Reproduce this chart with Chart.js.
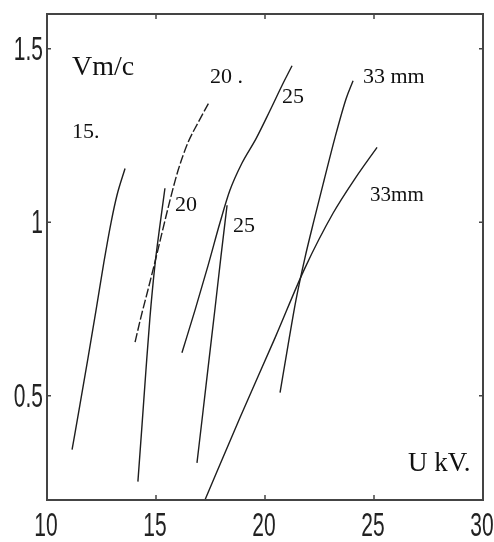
<!DOCTYPE html>
<html>
<head>
<meta charset="utf-8">
<title>V(U)</title>
<script src="https://cdn.jsdelivr.net/npm/chart.js@4.4.1/dist/chart.umd.min.js"></script>
<style>
    html, body { margin: 0; padding: 0; background: #fff; }
    #wrap { width: 494px; height: 542px; }
</style>
</head>
<body>
<div id="wrap"><canvas id="chart" width="494" height="542"></canvas></div>
<script>
// Curves: U in kV, V in m/s
const u15 = [11.15, 11.51, 11.88, 12.25, 12.61, 12.94, 13.21, 13.58];
const v15 = [0.345, 0.474, 0.609, 0.747, 0.885, 1.0, 1.078, 1.155];

const u20a = [14.04, 14.31, 14.63, 14.95, 15.28, 15.64, 16.01, 16.47, 16.93, 17.43];
const v20a = [0.655, 0.727, 0.805, 0.885, 0.971, 1.063, 1.149, 1.230, 1.287, 1.345];

const u20b = [14.17, 14.36, 14.54, 14.72, 14.95, 15.18, 15.41];
const v20b = [0.253, 0.417, 0.575, 0.724, 0.876, 0.991, 1.098];

const u25a = [16.19, 16.79, 17.39, 17.94, 18.39, 18.94, 19.59, 20.23, 20.78, 21.24];
const v25a = [0.624, 0.747, 0.876, 1.0, 1.092, 1.170, 1.241, 1.322, 1.394, 1.451];

const u25b = [16.88, 17.16, 17.43, 17.71, 17.98, 18.26];
const v25b = [0.307, 0.457, 0.603, 0.753, 0.902, 1.049];

const u33a = [20.69, 21.06, 21.42, 21.83, 22.25, 22.71, 23.21, 23.72, 24.04];
const v33a = [0.509, 0.647, 0.776, 0.897, 1.006, 1.121, 1.244, 1.356, 1.408];

const u33b = [17.25, 18.85, 20.46, 21.83, 23.12, 24.13, 25.14];
const v33b = [0.201, 0.437, 0.667, 0.868, 1.026, 1.126, 1.216];

// Axis ticks
const uTicks = [10, 15, 20, 25, 30];
const vTicks = [0.5, 1, 1.5];
const vTickLabels = ['0.5', '1', '1.5'];

// Text written inside the plot
const noteText = ['Vm/c', '15.', '20 .', '20', '25', '25', '33 mm', '33mm', 'U kV.'];
const noteU = [11.15, 11.15, 17.48, 15.87, 20.78, 18.53, 24.49, 24.82, 26.56];
const noteV = [1.425, 1.244, 1.402, 1.032, 1.345, 0.971, 1.402, 1.060, 0.284];
const noteSize = [28, 22, 22, 22, 22, 22, 22, 21, 27];

function zip(us, vs) {
    return us.map((u, i) => ({ x: u, y: vs[i] }));
}

function curve(us, vs, dashed) {
    return {
        data: zip(us, vs),
        showLine: true,
        borderColor: '#1e1e1e',
        borderWidth: 1.4,
        borderDash: dashed ? [9, 2.5] : [],
        pointRadius: 0,
        cubicInterpolationMode: 'monotone',
        fill: false
    };
}

const framePlugin = {
    id: 'frame',
    afterDatasetsDraw(chart) {
        const ctx = chart.ctx;
        const a = chart.chartArea;
        const xs = chart.scales.x;
        const ys = chart.scales.y;

        ctx.save();
        ctx.strokeStyle = '#444';
        ctx.lineWidth = 2;
        ctx.strokeRect(a.left, a.top, a.right - a.left, a.bottom - a.top);

        // inward ticks on all four sides
        ctx.lineWidth = 1.5;
        ctx.beginPath();
        uTicks.forEach(t => {
            const px = xs.getPixelForValue(t);
            ctx.moveTo(px, a.bottom); ctx.lineTo(px, a.bottom - 5);
            ctx.moveTo(px, a.top); ctx.lineTo(px, a.top + 5);
        });
        vTicks.forEach(t => {
            const py = ys.getPixelForValue(t);
            ctx.moveTo(a.left, py); ctx.lineTo(a.left + 4, py);
            ctx.moveTo(a.right, py); ctx.lineTo(a.right - 4, py);
        });
        ctx.stroke();

        // tick labels, tall and narrow like the original
        ctx.fillStyle = '#222';
        ctx.font = '21px "Liberation Sans Narrow", "Liberation Sans", sans-serif';
        ctx.textBaseline = 'alphabetic';
        ctx.textAlign = 'center';
        uTicks.forEach(t => {
            ctx.save();
            ctx.translate(xs.getPixelForValue(t) - 1, a.bottom + 36);
            ctx.scale(1, 1.55);
            ctx.fillText(String(t), 0, 0);
            ctx.restore();
        });
        ctx.textAlign = 'right';
        vTicks.forEach((t, i) => {
            ctx.save();
            ctx.translate(a.left - 4, ys.getPixelForValue(t) + 11);
            ctx.scale(1, 1.55);
            ctx.fillText(vTickLabels[i], 0, 0);
            ctx.restore();
        });

        // curve labels
        ctx.textAlign = 'left';
        ctx.fillStyle = '#111';
        noteText.forEach((txt, i) => {
            ctx.font = noteSize[i] + 'px "Liberation Serif", "Times New Roman", serif';
            ctx.fillText(txt, xs.getPixelForValue(noteU[i]), ys.getPixelForValue(noteV[i]));
        });
        ctx.restore();
    }
};

function initChart() {
    const ctx = document.getElementById('chart').getContext('2d');

    new Chart(ctx, {
        type: 'scatter',
        data: {
            datasets: [
                curve(u15, v15, false),
                curve(u20a, v20a, true),
                curve(u20b, v20b, false),
                curve(u25a, v25a, false),
                curve(u25b, v25b, false),
                curve(u33a, v33a, false),
                curve(u33b, v33b, false)
            ]
        },
        options: {
            responsive: false,
            animation: false,
            layout: {
                padding: { left: 47, right: 11, top: 14, bottom: 42 }
            },
            plugins: {
                legend: { display: false },
                tooltip: { enabled: false }
            },
            scales: {
                x: { type: 'linear', min: 10, max: 30, display: false },
                y: { type: 'linear', min: 0.2, max: 1.6, display: false }
            }
        },
        plugins: [framePlugin]
    });
}

initChart();
</script>
</body>
</html>
